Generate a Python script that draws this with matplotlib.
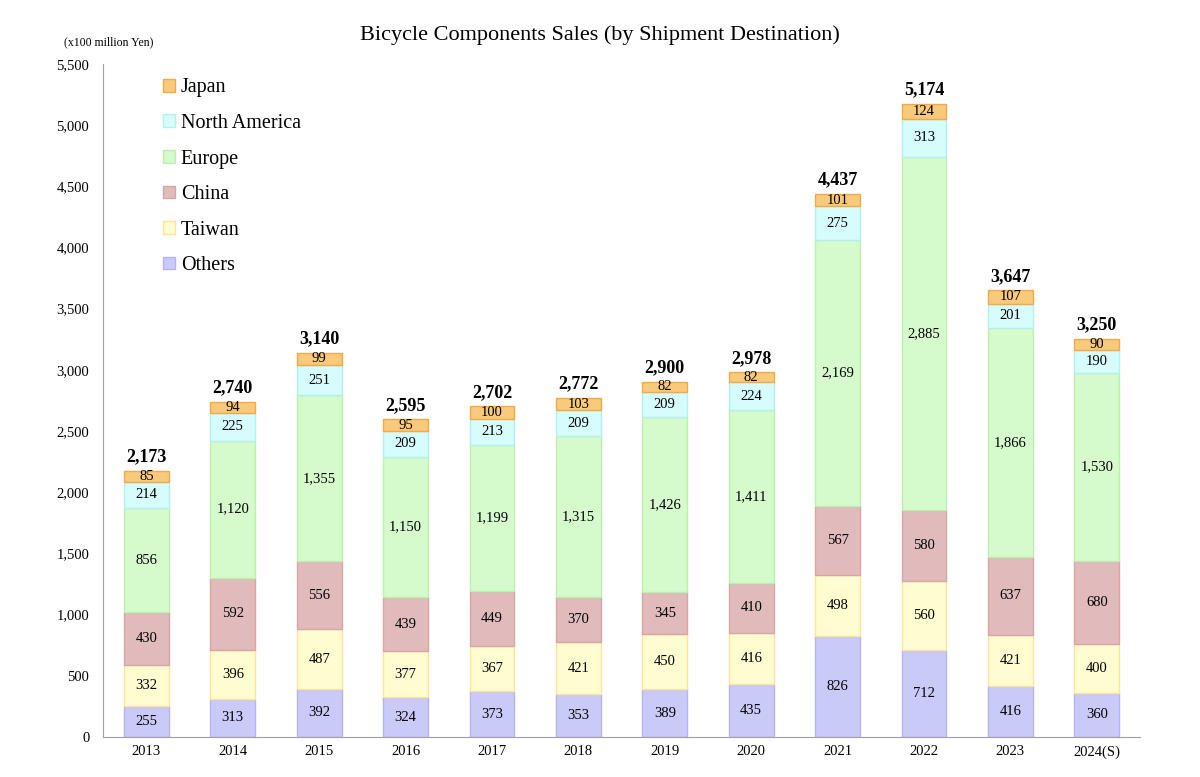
import matplotlib
matplotlib.use("Agg")
import matplotlib.pyplot as plt
from matplotlib.patches import Patch
import numpy as np

plt.rcParams['font.family'] = ['Liberation Serif', 'DejaVu Serif']

years = ['2013', '2014', '2015', '2016', '2017', '2018', '2019', '2020',
         '2021', '2022', '2023', '2024(S)']
others = [255, 313, 392, 324, 373, 353, 389, 435, 826, 712, 416, 360]
taiwan = [332, 396, 487, 377, 367, 421, 450, 416, 498, 560, 421, 400]
china = [430, 592, 556, 439, 449, 370, 345, 410, 567, 580, 637, 680]
europe = [856, 1120, 1355, 1150, 1199, 1315, 1426, 1411, 2169, 2885, 1866, 1530]
north_america = [214, 225, 251, 209, 213, 209, 209, 224, 275, 313, 201, 190]
japan = [85, 94, 99, 95, 100, 103, 82, 82, 101, 124, 107, 90]
totals = [2173, 2740, 3140, 2595, 2702, 2772, 2900, 2978, 4437, 5174, 3647, 3250]

# bottom to top
series = [
    ('Others', others, '#CACAF8', '#B4B4F0'),
    ('Taiwan', taiwan, '#FFFCD0', '#FFE4A0'),
    ('China', china, '#E1BBBB', '#D6A6A6'),
    ('Europe', europe, '#D5FBCD', '#BDF0B0'),
    ('North America', north_america, '#D6FCFC', '#B4F0F0'),
    ('Japan', japan, '#F9C97C', '#F0AA48'),
]

fig = plt.figure(figsize=(12, 7.77), dpi=100)
ax = fig.add_axes([0.086, 0.0515, 0.864, 0.8665])

x = np.arange(len(years))
bottom = np.zeros(len(years))
for name, vals, face, edge in series:
    vals = np.array(vals)
    ax.bar(x, vals, width=0.52, bottom=bottom, color=face, edgecolor=edge,
           linewidth=1.0)
    for xi, b, v in zip(x, bottom, vals):
        ax.text(xi, b + v / 2, f'{v:,}', ha='center', va='center', fontsize=10.5)
    bottom += vals

for xi, b, t in zip(x, bottom, totals):
    ax.text(xi, b + 45, f'{t:,}', ha='center', va='bottom', fontsize=13,
            fontweight='bold')

ax.set_xlim(-0.5, len(years) - 0.5)
ax.set_ylim(0, 5500)
ax.set_yticks(np.arange(0, 5501, 500))
ax.set_yticklabels([f'{v:,}' for v in range(0, 5501, 500)], fontsize=10.5)
ax.set_xticks(x)
ax.set_xticklabels(years, fontsize=10.5)
ax.tick_params(axis='x', length=0, pad=6)
ax.tick_params(axis='y', length=0, pad=10)
for s in ['top', 'right']:
    ax.spines[s].set_visible(False)
for s in ['left', 'bottom']:
    ax.spines[s].set_color('#A0A0A0')

fig.text(0.5, 0.955, 'Bicycle Components Sales (by Shipment Destination)',
         ha='center', va='center', fontsize=16)
fig.text(0.053, 0.946, '(x100 million Yen)', ha='left', va='center', fontsize=8.5)

handles = [Patch(facecolor=face, edgecolor=edge, label=name)
           for name, vals, face, edge in reversed(series)]
ax.legend(handles=handles, loc='upper left', bbox_to_anchor=(0.04, 1.005),
          frameon=False, fontsize=14.5, handlelength=0.6, handleheight=0.6,
          handletextpad=0.3, labelspacing=0.82)

fig.savefig('out.png')
